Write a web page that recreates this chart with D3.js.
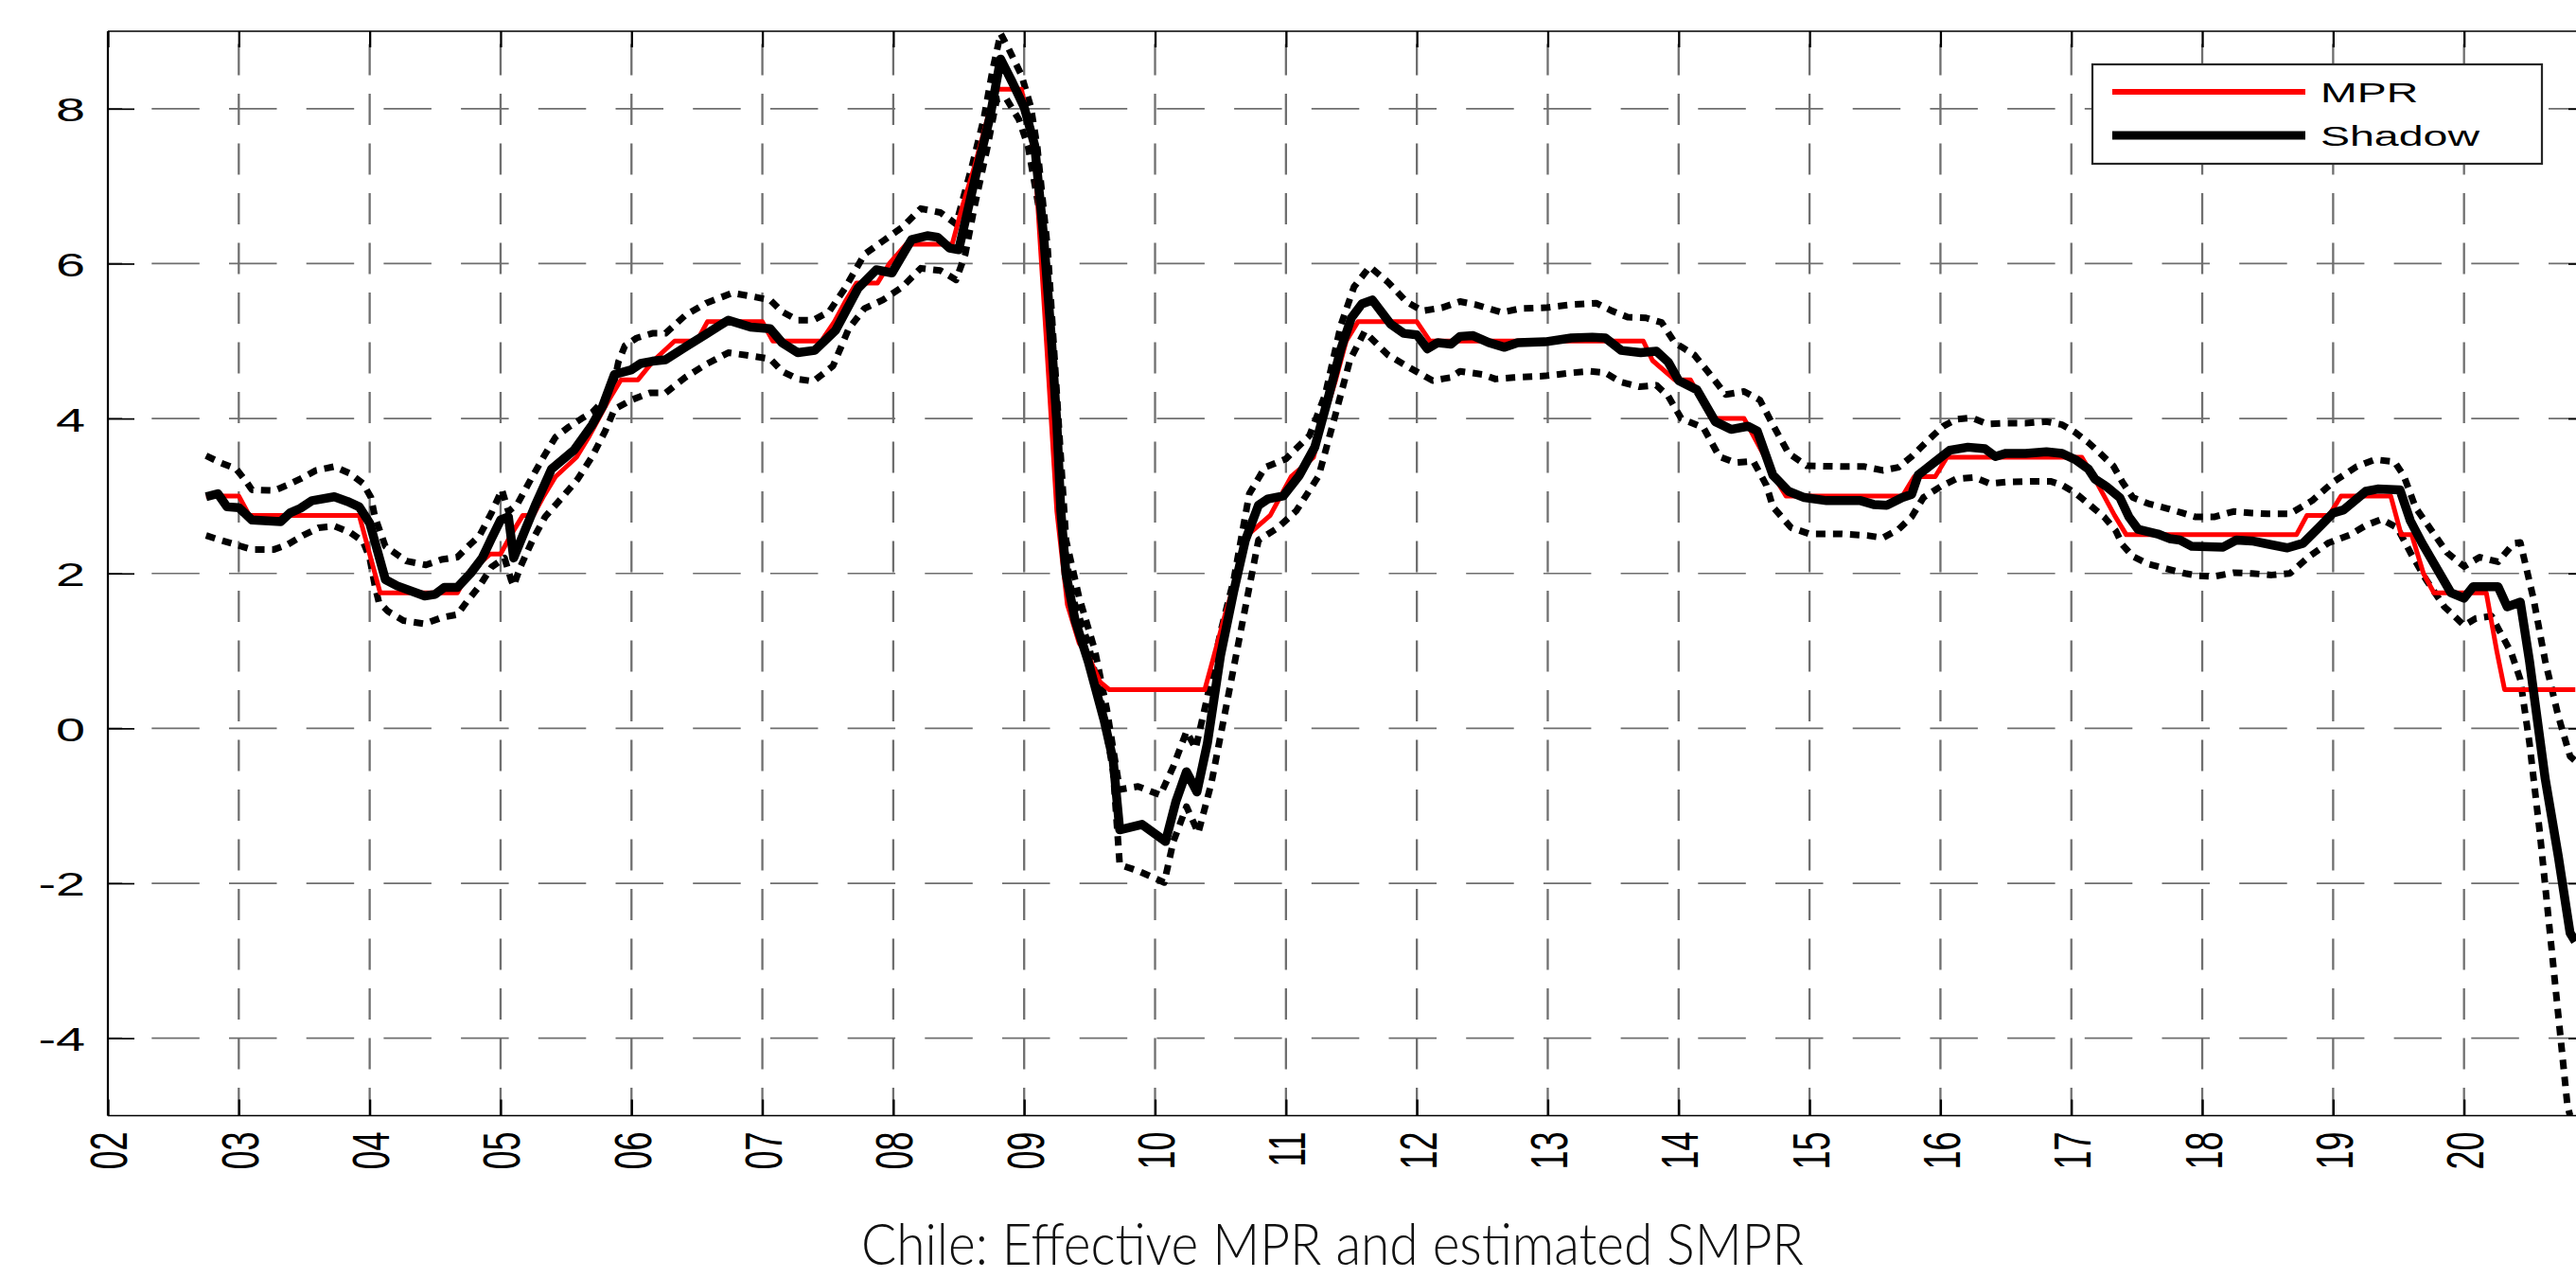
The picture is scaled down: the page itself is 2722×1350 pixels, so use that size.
<!DOCTYPE html>
<html>
<head>
<meta charset="utf-8">
<script src="https://cdn.jsdelivr.net/npm/d3@7"></script>
<style>
  html, body { margin: 0; padding: 0; background: #ffffff; }
  svg { display: block; }
</style>
</head>
<body>
<svg id="chart"></svg>
<script>
// x tick values (years) and their labels
var xTickValues = [2002, 2003, 2004, 2005, 2006, 2007, 2008, 2009, 2010, 2011, 2012, 2013, 2014, 2015, 2016, 2017, 2018, 2019, 2020];
var xTickLabels = ["02", "03", "04", "05", "06", "07", "08", "09", "10", "11", "12", "13", "14", "15", "16", "17", "18", "19", "20"];
var yTickValues = [-4, -2, 0, 2, 4, 6, 8];
var legendLabels = ["MPR", "Shadow"];
var titleText = "Chile: Effective MPR and estimated SMPR";

// effective monetary policy rate [year, %]
var mprData = [
	[2002.75, 3.0], [2003.0, 3.0], [2003.08, 2.75], [2003.92, 2.75], [2004.0, 2.25], [2004.08, 1.75],
	[2004.67, 1.75], [2004.75, 2.0], [2004.92, 2.25], [2005.0, 2.25], [2005.08, 2.5], [2005.17, 2.75],
	[2005.25, 2.75], [2005.33, 3.0], [2005.42, 3.25], [2005.58, 3.5], [2005.67, 3.75], [2005.75, 4.0],
	[2005.83, 4.25], [2005.92, 4.5], [2006.05, 4.5], [2006.17, 4.75], [2006.33, 5.0], [2006.5, 5.0],
	[2006.58, 5.25], [2007.0, 5.25], [2007.08, 5.0], [2007.45, 5.0], [2007.55, 5.25], [2007.63, 5.5],
	[2007.72, 5.75], [2007.88, 5.75], [2007.97, 6.0], [2008.1, 6.25], [2008.45, 6.25], [2008.53, 6.75],
	[2008.62, 7.25], [2008.7, 7.75], [2008.78, 8.25], [2008.98, 8.25], [2009.08, 7.4], [2009.17, 5.0],
	[2009.25, 2.8], [2009.33, 1.6], [2009.42, 1.1], [2009.5, 0.9], [2009.58, 0.6], [2009.65, 0.5],
	[2010.38, 0.5], [2010.46, 1.0], [2010.54, 1.5], [2010.63, 2.0], [2010.71, 2.5], [2010.88, 2.75],
	[2010.96, 3.0], [2011.04, 3.25], [2011.21, 3.5], [2011.29, 4.0], [2011.38, 4.5], [2011.46, 5.0],
	[2011.55, 5.25], [2012.0, 5.25], [2012.1, 5.0], [2013.73, 5.0], [2013.8, 4.75], [2013.97, 4.5],
	[2014.09, 4.5], [2014.17, 4.25], [2014.25, 4.0], [2014.5, 4.0], [2014.58, 3.75], [2014.66, 3.5],
	[2014.73, 3.25], [2014.82, 3.0], [2015.71, 3.0], [2015.8, 3.25], [2015.96, 3.25], [2016.05, 3.5],
	[2017.08, 3.5], [2017.17, 3.25], [2017.25, 3.0], [2017.33, 2.75], [2017.42, 2.5], [2018.72, 2.5],
	[2018.8, 2.75], [2018.97, 2.75], [2019.06, 3.0], [2019.44, 3.0], [2019.52, 2.5], [2019.6, 2.5],
	[2019.69, 2.0], [2019.77, 1.75], [2020.17, 1.75], [2020.25, 1.0], [2020.31, 0.5], [2020.85, 0.5]
];

// estimated shadow rate [year, %]
var shadowData = [
	[2002.75, 2.99], [2002.84, 3.03], [2002.91, 2.86], [2003.0, 2.85], [2003.1, 2.69], [2003.32, 2.67],
	[2003.39, 2.78], [2003.47, 2.84], [2003.56, 2.94], [2003.73, 2.99], [2003.83, 2.93], [2003.92, 2.86],
	[2004.0, 2.65], [2004.04, 2.41], [2004.12, 1.92], [2004.21, 1.84], [2004.42, 1.71], [2004.5, 1.73],
	[2004.57, 1.82], [2004.67, 1.82], [2004.77, 2.0], [2004.86, 2.2], [2004.93, 2.45], [2005.0, 2.69],
	[2005.06, 2.73], [2005.1, 2.2], [2005.18, 2.53], [2005.27, 2.9], [2005.39, 3.35], [2005.56, 3.59],
	[2005.7, 3.92], [2005.78, 4.16], [2005.87, 4.57], [2006.0, 4.63], [2006.07, 4.71], [2006.16, 4.74],
	[2006.26, 4.76], [2006.41, 4.92], [2006.57, 5.09], [2006.74, 5.27], [2006.91, 5.18], [2007.06, 5.16],
	[2007.15, 4.98], [2007.27, 4.85], [2007.4, 4.88], [2007.56, 5.14], [2007.73, 5.68], [2007.87, 5.92],
	[2007.99, 5.88], [2008.14, 6.31], [2008.26, 6.36], [2008.34, 6.34], [2008.43, 6.2], [2008.5, 6.18],
	[2008.64, 7.21], [2008.74, 7.9], [2008.82, 8.64], [2008.91, 8.34], [2009.0, 8.02], [2009.08, 7.53],
	[2009.15, 6.33], [2009.21, 4.98], [2009.25, 3.93], [2009.28, 2.81], [2009.32, 1.99], [2009.39, 1.39],
	[2009.49, 0.86], [2009.61, 0.11], [2009.68, -0.41], [2009.73, -1.31], [2009.9, -1.24], [2010.08, -1.46],
	[2010.16, -0.94], [2010.24, -0.56], [2010.32, -0.82], [2010.4, -0.19], [2010.5, 0.94], [2010.6, 1.76],
	[2010.69, 2.43], [2010.79, 2.88], [2010.86, 2.96], [2010.98, 3.0], [2011.1, 3.26], [2011.22, 3.63],
	[2011.32, 4.25], [2011.42, 4.9], [2011.5, 5.3], [2011.58, 5.48], [2011.66, 5.53], [2011.8, 5.22],
	[2011.9, 5.1], [2012.0, 5.08], [2012.08, 4.9], [2012.16, 4.98], [2012.26, 4.96], [2012.33, 5.06],
	[2012.43, 5.07], [2012.55, 4.98], [2012.67, 4.92], [2012.77, 4.98], [2012.98, 4.99], [2013.18, 5.04],
	[2013.34, 5.05], [2013.44, 5.04], [2013.56, 4.88], [2013.71, 4.85], [2013.83, 4.87], [2013.92, 4.73],
	[2014.0, 4.49], [2014.14, 4.37], [2014.28, 3.96], [2014.4, 3.86], [2014.53, 3.9], [2014.6, 3.84],
	[2014.72, 3.27], [2014.84, 3.06], [2014.96, 2.98], [2015.13, 2.94], [2015.39, 2.94], [2015.49, 2.89],
	[2015.59, 2.88], [2015.71, 2.98], [2015.78, 3.02], [2015.83, 3.27], [2015.95, 3.43], [2016.07, 3.59],
	[2016.21, 3.63], [2016.34, 3.61], [2016.42, 3.51], [2016.5, 3.55], [2016.65, 3.55], [2016.81, 3.57],
	[2016.93, 3.55], [2017.03, 3.47], [2017.13, 3.35], [2017.18, 3.22], [2017.27, 3.12], [2017.37, 2.98],
	[2017.44, 2.73], [2017.51, 2.57], [2017.66, 2.51], [2017.75, 2.45], [2017.83, 2.43], [2017.92, 2.35],
	[2018.16, 2.34], [2018.26, 2.43], [2018.38, 2.42], [2018.53, 2.37], [2018.65, 2.33], [2018.77, 2.39],
	[2018.89, 2.59], [2019.0, 2.78], [2019.08, 2.82], [2019.25, 3.06], [2019.34, 3.09], [2019.51, 3.08],
	[2019.59, 2.68], [2019.68, 2.39], [2019.8, 2.04], [2019.9, 1.75], [2020.0, 1.68], [2020.07, 1.83],
	[2020.26, 1.83], [2020.33, 1.57], [2020.43, 1.63], [2020.5, 0.87], [2020.62, -0.65], [2020.72, -1.65],
	[2020.81, -2.64], [2020.85, -2.75]
];

// upper confidence band [year, %]
var upperData = [
	[2002.75, 3.52], [2002.86, 3.43], [2002.98, 3.35], [2003.06, 3.18], [2003.1, 3.08], [2003.27, 3.07],
	[2003.37, 3.14], [2003.47, 3.22], [2003.59, 3.33], [2003.73, 3.38], [2003.85, 3.29], [2003.95, 3.16],
	[2004.01, 2.98], [2004.04, 2.73], [2004.12, 2.35], [2004.28, 2.16], [2004.43, 2.11], [2004.55, 2.18],
	[2004.67, 2.21], [2004.74, 2.33], [2004.84, 2.49], [2004.93, 2.78], [2005.01, 3.08], [2005.06, 2.8],
	[2005.13, 2.9], [2005.22, 3.18], [2005.33, 3.51], [2005.42, 3.76], [2005.52, 3.89], [2005.62, 4.0],
	[2005.7, 4.08], [2005.79, 4.24], [2005.87, 4.49], [2005.9, 4.73], [2005.95, 4.94], [2006.04, 5.04],
	[2006.16, 5.1], [2006.26, 5.1], [2006.41, 5.33], [2006.57, 5.49], [2006.77, 5.62], [2006.94, 5.57],
	[2007.06, 5.53], [2007.15, 5.38], [2007.27, 5.27], [2007.39, 5.27], [2007.51, 5.38], [2007.63, 5.68],
	[2007.78, 6.12], [2007.92, 6.29], [2008.07, 6.47], [2008.21, 6.71], [2008.36, 6.66], [2008.48, 6.51],
	[2008.6, 7.25], [2008.69, 7.86], [2008.76, 8.51], [2008.82, 8.97], [2008.88, 8.78], [2008.98, 8.43],
	[2009.05, 8.03], [2009.1, 7.51], [2009.18, 6.18], [2009.25, 4.3], [2009.32, 2.43], [2009.42, 1.69],
	[2009.54, 1.01], [2009.63, 0.26], [2009.73, -0.79], [2009.87, -0.75], [2010.04, -0.86], [2010.14, -0.49],
	[2010.24, -0.04], [2010.31, -0.26], [2010.4, 0.41], [2010.5, 1.24], [2010.6, 1.91], [2010.72, 3.03],
	[2010.84, 3.37], [2011.0, 3.48], [2011.18, 3.78], [2011.3, 4.31], [2011.42, 5.21], [2011.52, 5.7],
	[2011.64, 5.96], [2011.78, 5.76], [2011.92, 5.51], [2012.04, 5.39], [2012.19, 5.43], [2012.33, 5.51],
	[2012.45, 5.47], [2012.65, 5.37], [2012.79, 5.42], [2012.98, 5.43], [2013.18, 5.47], [2013.37, 5.49],
	[2013.49, 5.39], [2013.61, 5.31], [2013.75, 5.3], [2013.87, 5.24], [2013.97, 4.98], [2014.12, 4.82],
	[2014.24, 4.57], [2014.36, 4.31], [2014.5, 4.35], [2014.62, 4.24], [2014.72, 3.92], [2014.84, 3.55],
	[2014.98, 3.39], [2015.25, 3.38], [2015.42, 3.38], [2015.56, 3.33], [2015.68, 3.37], [2015.78, 3.51],
	[2015.9, 3.71], [2016.02, 3.9], [2016.12, 3.99], [2016.24, 4.01], [2016.36, 3.93], [2016.5, 3.94],
	[2016.65, 3.94], [2016.81, 3.96], [2016.93, 3.92], [2017.03, 3.82], [2017.13, 3.69], [2017.22, 3.55],
	[2017.32, 3.39], [2017.39, 3.18], [2017.47, 2.98], [2017.59, 2.9], [2017.73, 2.84], [2017.85, 2.78],
	[2017.95, 2.73], [2018.09, 2.73], [2018.24, 2.8], [2018.38, 2.78], [2018.5, 2.77], [2018.67, 2.77],
	[2018.84, 2.94], [2019.0, 3.18], [2019.18, 3.38], [2019.32, 3.47], [2019.47, 3.44], [2019.54, 3.26],
	[2019.63, 2.85], [2019.75, 2.56], [2019.87, 2.27], [2020.0, 2.09], [2020.12, 2.21], [2020.26, 2.15],
	[2020.38, 2.39], [2020.43, 2.4], [2020.53, 1.68], [2020.62, 0.87], [2020.72, 0.16], [2020.81, -0.36],
	[2020.85, -0.42]
];

// lower confidence band [year, %]
var lowerData = [
	[2002.75, 2.49], [2002.86, 2.43], [2002.98, 2.37], [2003.1, 2.31], [2003.27, 2.31], [2003.37, 2.37],
	[2003.49, 2.49], [2003.61, 2.59], [2003.73, 2.61], [2003.85, 2.53], [2003.95, 2.41], [2004.0, 2.2],
	[2004.04, 1.84], [2004.07, 1.63], [2004.14, 1.51], [2004.26, 1.39], [2004.42, 1.35], [2004.55, 1.43],
	[2004.67, 1.47], [2004.74, 1.63], [2004.84, 1.84], [2004.93, 2.08], [2005.03, 2.2], [2005.08, 1.92],
	[2005.1, 1.84], [2005.15, 2.08], [2005.25, 2.45], [2005.34, 2.73], [2005.47, 2.98], [2005.59, 3.22],
	[2005.7, 3.51], [2005.8, 3.84], [2005.87, 4.12], [2006.0, 4.24], [2006.14, 4.33], [2006.26, 4.33],
	[2006.41, 4.53], [2006.57, 4.7], [2006.74, 4.85], [2006.91, 4.81], [2007.06, 4.77], [2007.15, 4.61],
	[2007.27, 4.51], [2007.39, 4.48], [2007.54, 4.68], [2007.66, 5.16], [2007.78, 5.42], [2007.92, 5.53],
	[2008.07, 5.7], [2008.21, 5.94], [2008.36, 5.91], [2008.48, 5.79], [2008.55, 6.12], [2008.62, 6.73],
	[2008.72, 7.51], [2008.79, 8.12], [2008.86, 8.14], [2008.96, 7.86], [2009.03, 7.51], [2009.13, 6.55],
	[2009.22, 4.68], [2009.3, 2.43], [2009.37, 1.69], [2009.49, 1.09], [2009.59, 0.34], [2009.68, -0.56],
	[2009.73, -1.76], [2009.87, -1.84], [2010.07, -1.99], [2010.14, -1.46], [2010.24, -1.01], [2010.33, -1.35],
	[2010.43, -0.71], [2010.55, 0.34], [2010.67, 1.39], [2010.79, 2.43], [2010.93, 2.58], [2011.08, 2.81],
	[2011.25, 3.26], [2011.37, 4.0], [2011.49, 4.76], [2011.6, 5.12], [2011.78, 4.82], [2011.95, 4.65],
	[2012.12, 4.49], [2012.26, 4.53], [2012.33, 4.61], [2012.5, 4.57], [2012.6, 4.51], [2012.74, 4.53],
	[2012.98, 4.55], [2013.18, 4.59], [2013.32, 4.61], [2013.44, 4.59], [2013.56, 4.47], [2013.7, 4.41],
	[2013.83, 4.43], [2013.92, 4.29], [2014.02, 4.0], [2014.19, 3.88], [2014.31, 3.51], [2014.43, 3.43],
	[2014.57, 3.45], [2014.67, 3.14], [2014.72, 2.86], [2014.86, 2.59], [2015.0, 2.51], [2015.25, 2.51],
	[2015.44, 2.49], [2015.56, 2.46], [2015.68, 2.57], [2015.78, 2.73], [2015.87, 2.98], [2016.0, 3.12],
	[2016.12, 3.22], [2016.26, 3.24], [2016.38, 3.16], [2016.5, 3.18], [2016.69, 3.19], [2016.84, 3.19],
	[2016.93, 3.14], [2017.03, 3.04], [2017.13, 2.9], [2017.25, 2.73], [2017.34, 2.55], [2017.39, 2.37],
	[2017.47, 2.22], [2017.59, 2.12], [2017.73, 2.06], [2017.87, 2.0], [2017.97, 1.97], [2018.09, 1.96],
	[2018.24, 2.01], [2018.38, 2.0], [2018.53, 1.98], [2018.67, 2.0], [2018.81, 2.21], [2018.96, 2.39],
	[2019.13, 2.5], [2019.25, 2.62], [2019.37, 2.7], [2019.49, 2.59], [2019.59, 2.27], [2019.71, 1.92],
	[2019.85, 1.57], [2020.0, 1.33], [2020.09, 1.42], [2020.21, 1.45], [2020.36, 0.98], [2020.43, 0.63],
	[2020.5, -0.19], [2020.58, -1.36], [2020.65, -2.53], [2020.72, -3.7], [2020.79, -4.87], [2020.81, -5.0]
];

/**
 * Shadow rate chart
 */
var shadowChartObj = {

	svg : null,
	x : null,
	y : null,

	// the source figure is stretched sideways, text follows it
	stretch : 1.55,
	font : "'Liberation Sans', Arial, Helvetica, sans-serif",

	layout : {
		width : 2722,
		height : 1350,
		left : 114,
		right : 2742,   // right frame sits just outside the picture
		top : 33,
		bottom : 1178.5
	},

	init : function(id) {
		var that = this;
		var lay = that.layout;

		that.svg = d3.select(id).attr("width", lay.width).attr("height", lay.height);
		that.x = d3.scaleLinear().domain([2002, 2021]).range([lay.left, lay.right]);
		that.y = d3.scaleLinear().domain([-5, 9]).range([lay.bottom, lay.top]);

		that.svg.append("defs").append("clipPath").attr("id", "plotClip")
			.append("rect").attr("x", lay.left).attr("y", lay.top)
			.attr("width", lay.right - lay.left).attr("height", lay.bottom - lay.top);
	},

	draw : function() {
		var that = this;
		that.drawGrid();
		that.drawSeries();
		that.drawAxes();
		that.drawLegend();
		that.drawTitle();
	},

	drawGrid : function() {
		var that = this;
		var lay = that.layout;
		var g = that.svg.append("g").attr("class", "grid");

		// vertical grid lines
		g.selectAll("line.vgrid").data(xTickValues.slice(1)).enter().append("line")
			.attr("class", "vgrid")
			.attr("x1", function(d) { return that.x(d); }).attr("x2", function(d) { return that.x(d); })
			.attr("y1", lay.top).attr("y2", lay.bottom)
			.attr("stroke", "#6f6f6f").attr("stroke-width", 2.3)
			.attr("stroke-dasharray", "33,19.5").attr("stroke-dashoffset", 39);

		// horizontal grid lines
		g.selectAll("line.hgrid").data(yTickValues).enter().append("line")
			.attr("class", "hgrid")
			.attr("x1", lay.left).attr("x2", lay.width)
			.attr("y1", function(d) { return that.y(d); }).attr("y2", function(d) { return that.y(d); })
			.attr("stroke", "#6f6f6f").attr("stroke-width", 1.7)
			.attr("stroke-dasharray", "50.5,31.2").attr("stroke-dashoffset", 35.4);
	},

	drawSeries : function() {
		var that = this;
		var line = d3.line()
			.x(function(d) { return that.x(d[0]); })
			.y(function(d) { return that.y(d[1]); });

		var g = that.svg.append("g").attr("clip-path", "url(#plotClip)");

		[upperData, lowerData].forEach(function(band) {
			g.append("path").datum(band).attr("d", line)
				.attr("fill", "none").attr("stroke", "#000000").attr("stroke-width", 7)
				.attr("stroke-dasharray", "10,8").attr("stroke-linejoin", "round");
		});

		g.append("path").datum(mprData).attr("d", line)
			.attr("fill", "none").attr("stroke", "#ff0000").attr("stroke-width", 5)
			.attr("stroke-linejoin", "round");

		g.append("path").datum(shadowData).attr("d", line)
			.attr("fill", "none").attr("stroke", "#000000").attr("stroke-width", 9.5)
			.attr("stroke-linejoin", "round");
	},

	drawAxes : function() {
		var that = this;
		var lay = that.layout;
		var s = that.stretch;
		var labelOf = function(d) { return xTickLabels[xTickValues.indexOf(d)]; };

		// left axis, ticks inward, stretched labels
		var yAxis = that.svg.append("g").attr("transform", "translate(" + lay.left + ",0)")
			.call(d3.axisLeft(that.y).tickValues(yTickValues).tickSize(-28).tickPadding(24)
				.tickFormat(function(d) { return String(d); }));
		yAxis.select(".domain").remove();
		yAxis.selectAll(".tick line").attr("stroke", "#000000").attr("stroke-width", 1.7);
		yAxis.selectAll(".tick text")
			.attr("x", -24 / s).attr("dy", "0.36em")
			.attr("transform", "scale(" + s + ",1)")
			.attr("fill", "#000000").attr("font-size", 36).attr("font-family", that.font);

		// right axis ticks only
		var yRight = that.svg.append("g").attr("transform", "translate(" + lay.right + ",0)")
			.call(d3.axisRight(that.y).tickValues(yTickValues).tickSize(-28).tickFormat(""));
		yRight.select(".domain").remove();
		yRight.selectAll(".tick line").attr("stroke", "#000000").attr("stroke-width", 1.7);

		// bottom axis, rotated stretched labels
		var xAxis = that.svg.append("g").attr("transform", "translate(0," + lay.bottom + ")")
			.call(d3.axisBottom(that.x).tickValues(xTickValues).tickSize(-17).tickFormat(labelOf));
		xAxis.select(".domain").remove();
		xAxis.selectAll(".tick line").attr("stroke", "#000000").attr("stroke-width", 2.3);
		xAxis.selectAll(".tick text")
			.attr("x", 0).attr("y", 12.9).attr("dy", null)
			.attr("text-anchor", "end")
			.attr("transform", "translate(0,17) scale(" + s + ",1) rotate(-90)")
			.attr("fill", "#000000").attr("font-size", 36).attr("font-family", that.font);

		// top axis ticks only
		var xTop = that.svg.append("g").attr("transform", "translate(0," + lay.top + ")")
			.call(d3.axisTop(that.x).tickValues(xTickValues).tickSize(-17).tickFormat(""));
		xTop.select(".domain").remove();
		xTop.selectAll(".tick line").attr("stroke", "#000000").attr("stroke-width", 2.3);

		// frame
		that.drawLine(lay.left, lay.top, lay.width, lay.top, 1.5);
		that.drawLine(lay.left, lay.bottom, lay.width, lay.bottom, 1.5);
		that.drawLine(lay.left, lay.top, lay.left, lay.bottom, 2.2);
	},

	drawLegend : function() {
		var that = this;
		var s = that.stretch;
		var box = { x : 2211, y : 68, w : 475, h : 105 };
		var styles = [
			{ color : "#ff0000", width : 6, y : 97 },
			{ color : "#000000", width : 9, y : 143 }
		];

		var g = that.svg.append("g").attr("class", "legend");
		g.append("rect").attr("x", box.x).attr("y", box.y).attr("width", box.w).attr("height", box.h)
			.attr("fill", "#ffffff").attr("stroke", "#262626").attr("stroke-width", 2.2);

		legendLabels.forEach(function(label, i) {
			var st = styles[i];
			g.append("line").attr("x1", 2232).attr("x2", 2436).attr("y1", st.y).attr("y2", st.y)
				.attr("stroke", st.color).attr("stroke-width", st.width);
			g.append("text")
				.attr("transform", "translate(2452," + (st.y + 11) + ") scale(" + s + ",1)")
				.attr("fill", "#000000").attr("font-size", 30).attr("font-family", that.font)
				.text(label);
		});
	},

	drawTitle : function() {
		var that = this;
		that.svg.append("text")
			.attr("x", 1408).attr("y", 1336)
			.attr("text-anchor", "middle")
			.attr("font-family", "Lato, 'Open Sans', sans-serif").attr("font-weight", 300)
			.attr("font-size", 62)
			.attr("textLength", 996).attr("lengthAdjust", "spacingAndGlyphs")
			.attr("fill", "#111111")
			.text(titleText);
	},

	drawLine : function(x1, y1, x2, y2, width) {
		var that = this;
		return that.svg.append("line").attr("x1", x1).attr("y1", y1).attr("x2", x2).attr("y2", y2)
			.attr("stroke", "#000000").attr("stroke-width", width);
	}
};

shadowChartObj.init("#chart");
shadowChartObj.draw();
</script>
</body>
</html>
